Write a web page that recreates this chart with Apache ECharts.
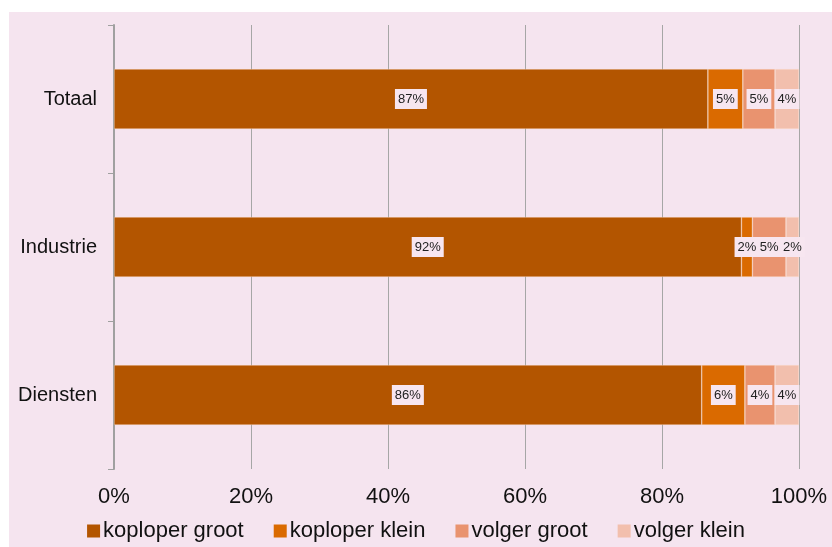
<!DOCTYPE html>
<html>
<head>
<meta charset="utf-8">
<script src="https://cdn.jsdelivr.net/npm/echarts@6/dist/echarts.min.js"></script>
<style>
  html, body { margin: 0; padding: 0; background: #ffffff; }
  #main { width: 832px; height: 547px; }
</style>
</head>
<body>
<div id="main"></div>
<script>
// categories top to bottom
const categories = ["Totaal", "Industrie", "Diensten"];
const seriesNames = ["koploper groot", "koploper klein", "volger groot", "volger klein"];
// shares in %
const koploperGroot = [86.7, 91.6, 85.8];
const koploperKlein = [5.1, 1.6, 6.3];
const volgerGroot = [4.7, 4.9, 4.4];
const volgerKlein = [3.5, 1.9, 3.5];
const colors = ["#b35500", "#da6a00", "#e9936f", "#f2bfad"];

var myChart = echarts.init(document.getElementById("main"));

const allData = [koploperGroot, koploperKlein, volgerGroot, volgerKlein];

const series = seriesNames.map(function (name, i) {
  return {
    name: name,
    type: "bar",
    stack: "total",
    barWidth: 60,
    data: allData[i],
    itemStyle: { color: colors[i], borderColor: "rgba(255,230,210,0.6)", borderWidth: 0.6 },
    label: {
      show: true,
      position: "inside",
      formatter: function (p) { return Math.round(p.value) + "%"; },
      color: "#222",
      fontSize: 13,
      fontFamily: "Liberation Sans",
      backgroundColor: "#f7e6f0",
      padding: [4, 3, 3, 3]
    }
  };
});

myChart.setOption({
  animation: false,
  graphic: [{
    type: "rect",
    z: -10,
    shape: { x: 9, y: 12, width: 823, height: 535 },
    style: { fill: "#f5e4ef" }
  }],
  grid: { left: 114, right: 33, top: 25, bottom: 78 },
  legend: {
    top: 515,
    left: "center",
    itemWidth: 13,
    itemHeight: 13,
    itemGap: 30,
    icon: "rect",
    itemStyle: { borderWidth: 0 },
    textStyle: { fontSize: 22, fontFamily: "Liberation Sans", color: "#111", padding: [0, 0, 0, -2] },
    data: seriesNames
  },
  xAxis: {
    type: "value",
    min: 0,
    max: 100,
    interval: 20,
    axisLine: { show: false },
    axisTick: { show: false },
    axisLabel: {
      formatter: "{value}%",
      fontSize: 22,
      fontFamily: "Liberation Sans",
      color: "#111",
      margin: 17
    },
    splitLine: { lineStyle: { color: "#a6a6a6", width: 1 } }
  },
  yAxis: {
    type: "category",
    inverse: true,
    data: categories,
    axisLine: { show: true, lineStyle: { color: "#a0a0a0", width: 2 } },
    axisTick: { show: true, length: 6, lineStyle: { color: "#a0a0a0" } },
    axisLabel: {
      fontSize: 20,
      fontFamily: "Liberation Sans",
      color: "#111",
      margin: 17
    }
  },
  series: series
});
</script>
</body>
</html>
